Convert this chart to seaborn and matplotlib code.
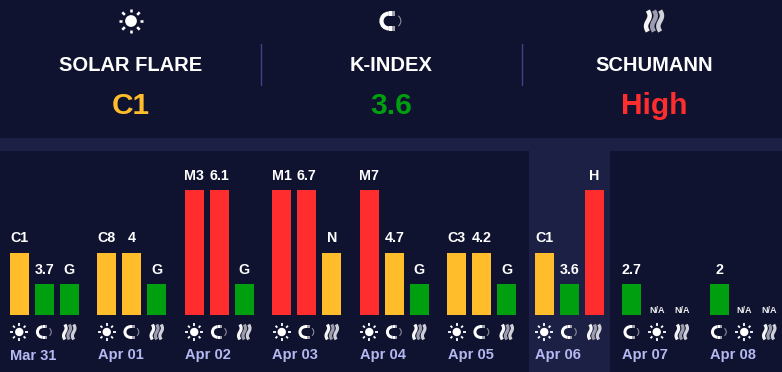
import numpy as np
import pandas as pd
import seaborn as sns
import matplotlib.pyplot as plt
from matplotlib.patches import Rectangle, Circle, Wedge, Arc

# Data
days = ["Mar 31", "Apr 01", "Apr 02", "Apr 03", "Apr 04", "Apr 05", "Apr 06", "Apr 07", "Apr 08"]
flare_labels = ["C1", "C8", "M3", "M1", "M7", "C3", "C1", "N/A", "N/A"]
flare_heights = [62, 62, 125, 125, 125, 62, 62, 0, 0]
kindex_labels = ["3.7", "4", "6.1", "6.7", "4.7", "4.2", "3.6", "2.7", "2"]
kindex_heights = [31, 62, 125, 125, 62, 62, 31, 31, 31]
schumann_labels = ["G", "G", "G", "N", "G", "G", "H", "N/A", "N/A"]
schumann_heights = [31, 31, 31, 62, 31, 31, 125, 0, 0]
header_titles = ["SOLAR FLARE", "K-INDEX", "SCHUMANN"]
header_values = ["C1", "3.6", "High"]

BG = "#0f1330"
PANEL = "#1c2044"
YELLOW = "#ffbc2b"
GREEN = "#009f0f"
RED = "#ff2d2d"
level_colors = {31: GREEN, 62: YELLOW, 125: RED, 0: GREEN}
label_gap = {31: 10.5, 62: 11.5, 125: 9.5}

W, H = 782, 372
BASE = 315  # bar baseline, pixels from the top


def to_y(py):
    return BASE - py


def draw_sun(ax, x, y, s=1.0):
    ax.add_patch(Circle((x, y), 4.2 * s, color="white", lw=0, zorder=5))
    for a in np.arange(8) * np.pi / 4:
        ax.plot([x + 6.2 * s * np.cos(a), x + 8.8 * s * np.cos(a)],
                [y + 6.2 * s * np.sin(a), y + 8.8 * s * np.sin(a)],
                color="white", lw=1.3 * s, solid_capstyle="butt", zorder=5)


def draw_magnet(ax, x, y, s=1.0):
    # thick C open to the right, tips fade to grey
    ax.add_patch(Wedge((x - 1.5 * s, y), 6.8 * s, 90, 270, width=3 * s, color="white", lw=0, zorder=5))
    for py in [y + 3.8 * s, y - 6.8 * s]:
        ax.add_patch(Rectangle((x - 1.5 * s, py), 2.2 * s, 3 * s, color="white", lw=0, zorder=5))
        ax.add_patch(Rectangle((x + 0.7 * s, py), 2.2 * s, 3 * s, color="#a0a0ac", lw=0, zorder=5))
    ax.add_patch(Arc((x + 1.5 * s, y), 11 * s, 10 * s, theta1=-45, theta2=45, color="#8a8a98", lw=0.8, zorder=5))


def draw_waves(ax, x, y, s=1.0):
    t = np.linspace(-1, 1, 40)
    for off, col in zip([-4.4, 0, 4.4], ["#f5f5f5", "#9c9cae", "#d0d0d8"]):
        ax.plot(x + off * s + 1.3 * s * np.sin(t * np.pi), y + t * 7.5 * s,
                color=col, lw=2.3 * s, zorder=5, solid_capstyle="butt")


icons = {"flare": draw_sun, "kindex": draw_magnet, "schumann": draw_waves}

# last two days list the k-index first
rows = []
for i, day in enumerate(days):
    order = ["flare", "kindex", "schumann"] if flare_heights[i] > 0 else ["kindex", "flare", "schumann"]
    vals = {"flare": (flare_labels[i], flare_heights[i]),
            "kindex": (kindex_labels[i], kindex_heights[i]),
            "schumann": (schumann_labels[i], schumann_heights[i])}
    for j, name in enumerate(order):
        rows.append({"day": day, "pos": 19.25 + 87.5 * i + 25 * j, "series": name,
                     "label": vals[name][0], "height": vals[name][1]})
df = pd.DataFrame(rows)

sns.set_style("dark", {"axes.facecolor": BG, "figure.facecolor": BG})
plt.rcParams["font.family"] = ["Liberation Sans", "DejaVu Sans"]

fig = plt.figure(figsize=(7.82, 3.72), dpi=100)
ax = fig.add_axes([0, 0, 1, 1])

sns.barplot(data=df, x="pos", y="height", hue="height", palette=level_colors, native_scale=True,
            dodge=False, width=0.76, saturation=1, legend=False, linewidth=0, ax=ax, zorder=3)
ax.set_xlim(0, W)
ax.set_ylim(to_y(H), to_y(0))
ax.axis("off")
fig.patch.set_facecolor(BG)

# bands behind the bars
ax.add_patch(Rectangle((0, to_y(151)), W, 13, color=PANEL, lw=0, zorder=1))
ax.add_patch(Rectangle((529, to_y(H)), 81, H - 151, color=PANEL, lw=0, zorder=1))

for _, r in df.iterrows():
    if r["label"] == "N/A":
        ax.text(r["pos"], r["height"] + 2, "N/A", color="#f0f0f0", fontsize=6.5, fontweight="bold",
                ha="center", va="baseline", zorder=6)
    else:
        ax.text(r["pos"], r["height"] + label_gap[r["height"]], r["label"], color="white", fontsize=10.3,
                fontweight="bold", ha="center", va="baseline", zorder=6)
    icons[r["series"]](ax, r["pos"], to_y(332))

for i, day in enumerate(days):
    ax.text(10 + 87.5 * i, to_y(355.5), day, color="#b4b9f2", fontsize=10.5, fontweight="bold",
            ha="left", va="center", zorder=6)

# header
header_x = [131, 391, 654]
value_colors = [YELLOW, GREEN, RED]
for x, title, value, col, name in zip(header_x, header_titles, header_values, value_colors, icons):
    ax.text(x, to_y(65.5), title, color="white", fontsize=14.5, fontweight="bold", ha="center", va="center")
    ax.text(x, to_y(106), value, color=col, fontsize=21.5, fontweight="bold", ha="center", va="center")
    icons[name](ax, x, to_y(21), 1.4)
for x in [261, 522]:
    ax.plot([x, x], [to_y(44), to_y(85)], color="#3f4388", lw=1, zorder=2)

fig.savefig("out.png", dpi=100, facecolor=BG)
